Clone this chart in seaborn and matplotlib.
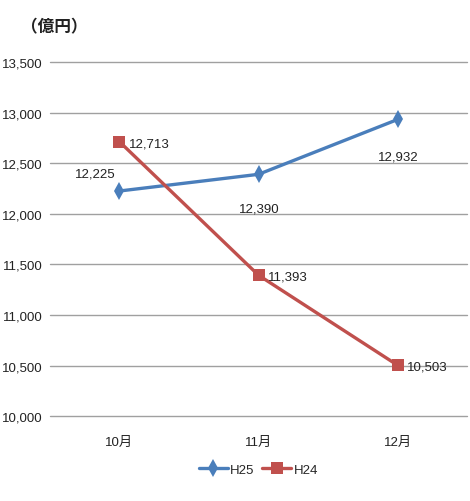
import pandas as pd
import matplotlib
matplotlib.use("Agg")
import matplotlib.pyplot as plt
import seaborn as sns

months = ['10月', '11月', '12月']
h25 = [12225, 12390, 12932]
h24 = [12713, 11393, 10503]

df = pd.DataFrame({'month': months * 2,
                   'value': h25 + h24,
                   'series': ['H25'] * 3 + ['H24'] * 3})

sns.set_style('white')
plt.rcParams['font.family'] = ['Liberation Sans', 'Noto Sans CJK JP', 'DejaVu Sans']

fig = plt.figure(figsize=(4.7, 5.02), dpi=100)
ax = fig.add_axes([0.106, 0.169, 0.888, 0.7055])

palette = {'H25': '#4a7ebb', 'H24': '#c0504d'}
sns.lineplot(data=df, x='month', y='value', hue='series', style='series',
             markers={'H25': 'd', 'H24': 's'}, dashes=False, palette=palette,
             linewidth=2.4, markersize=9, markeredgewidth=0, ax=ax, sort=False)

ax.set_xlim(-0.5, 2.5)
ax.set_ylim(10000, 13500)
ax.set_yticks(range(10000, 13501, 500))
ax.set_yticklabels([f'{v:,}' for v in range(10000, 13501, 500)])
ax.yaxis.grid(True, color='#a0a0a0', linewidth=1)
for gl in ax.get_ygridlines():
    gl.set_clip_on(False)
ax.set_axisbelow(True)
for s in ax.spines.values():
    s.set_visible(False)
ax.tick_params(axis='both', length=0, labelsize=9.5, labelcolor='#222222')
ax.tick_params(axis='y', pad=5)
ax.tick_params(axis='x', pad=14)
ax.set_xlabel('')
ax.set_ylabel('')

# data labels
offsets25 = [(-32, 8), (-14, -29), (-14, -31)]
for i, v in enumerate(h25):
    ax.annotate(f'{v:,}', (i, v), xytext=offsets25[i], textcoords='offset points',
                fontsize=9.5, ha='left', va='bottom', color='#222222')
for i, v in enumerate(h24):
    ax.annotate(f'{v:,}', (i, v), xytext=(7, -1), textcoords='offset points',
                fontsize=9.5, ha='left', va='center', color='#222222')

leg = ax.legend(loc='upper center', bbox_to_anchor=(0.5, -0.1), ncol=2, frameon=False,
                fontsize=9.5, handlelength=2.2, columnspacing=0.6, handletextpad=0.2)

fig.text(0.045, 0.935, '（億円）', fontsize=12, fontweight='bold',
         family=['Noto Sans CJK JP'], color='#222222')

fig.savefig('out.png', dpi=100, facecolor='white')
